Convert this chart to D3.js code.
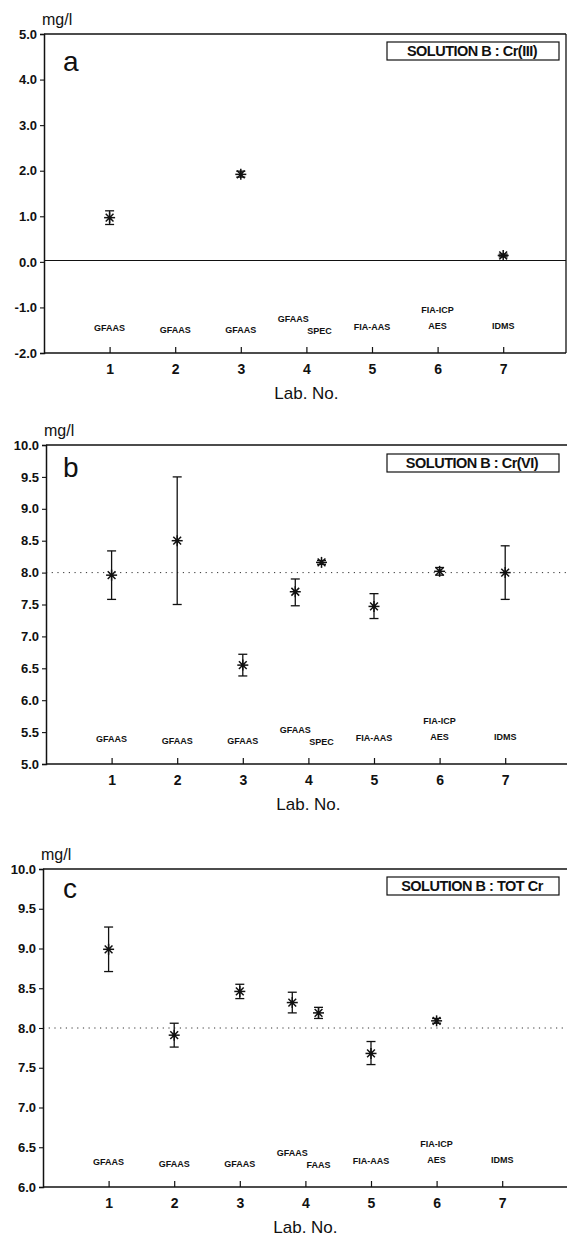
<!DOCTYPE html>
<html>
<head>
<meta charset="utf-8">
<script src="https://cdn.jsdelivr.net/npm/d3@7"></script>
<style>
  html, body { margin: 0; padding: 0; background: #fff; }
  svg { display: block; }
  text { font-family: "Liberation Sans", Arial, Helvetica, sans-serif; fill: #111; }
</style>
</head>
<body>
<svg id="chart" width="567" height="1238"></svg>
<script>
// Laboratory positions on the x axis (lab 4 reported two methods, drawn either side of 4)
const labPositions = [1, 2, 3, 3.8, 4.2, 5, 6, 7];
const labTicks = [1, 2, 3, 4, 5, 6, 7];

// Method names written under each result
const methodsAB = ["GFAAS", "GFAAS", "GFAAS", "GFAAS", "SPEC", "FIA-AAS", "FIA-ICP|AES", "IDMS"];
const methodsC  = ["GFAAS", "GFAAS", "GFAAS", "GFAAS", "FAAS", "FIA-AAS", "FIA-ICP|AES", "IDMS"];

// Solution B, Cr(III) in mg/l: mean and error-bar limits
const crIIIMean = [0.97, null, 1.92, null, null, null, null, 0.14];
const crIIILow  = [0.82, null, 1.86, null, null, null, null, 0.11];
const crIIIHigh = [1.12, null, 1.99, null, null, null, null, 0.17];

// Solution B, Cr(VI) in mg/l
const crVIMean = [7.96, 8.50, 6.55, 7.70, 8.16, 7.47, 8.02, 8.00];
const crVILow  = [7.58, 7.50, 6.38, 7.48, 8.13, 7.28, 7.96, 7.58];
const crVIHigh = [8.34, 9.50, 6.72, 7.90, 8.19, 7.67, 8.08, 8.42];

// Solution B, total Cr in mg/l
const totCrMean = [8.99, 7.91, 8.46, 8.32, 8.19, 7.68, 8.09, null];
const totCrLow  = [8.71, 7.76, 8.37, 8.19, 8.12, 7.54, 8.06, null];
const totCrHigh = [9.27, 8.06, 8.55, 8.45, 8.26, 7.83, 8.12, null];

// Reference levels
const referenceValues = [0.03, 8.0, 8.0];

// Y axis tick values
const yTicksA = [-2, -1, 0, 1, 2, 3, 4, 5];
const yTicksB = [5, 5.5, 6, 6.5, 7, 7.5, 8, 8.5, 9, 9.5, 10];
const yTicksC = [6, 6.5, 7, 7.5, 8, 8.5, 9, 9.5, 10];

const panelLetters = ["a", "b", "c"];
const legendTitles = ["SOLUTION B : Cr(III)", "SOLUTION B : Cr(VI)", "SOLUTION B : TOT Cr"];

// ---- layout ----
const unitPx = 65.6;
const layout = [
  { top: 34,  bottom: 353,  left: 44, right: 566, letterY: 71,  legendY: 42,  refStyle: "solid" },
  { top: 445, bottom: 764,  left: 46, right: 569, letterY: 477, legendY: 454, refStyle: "dotted" },
  { top: 869, bottom: 1187, left: 43, right: 569, letterY: 898, legendY: 877, refStyle: "dotted" }
];
// vertical offsets (px above the x axis) for the method captions, one per result
const methodOffsets = [25, 23, 23.5, 34.5, 22.5, 26.5, [43, 27.5], 27];

const panels = [
  { mean: crIIIMean, low: crIIILow, high: crIIIHigh, ticks: yTicksA, methods: methodsAB },
  { mean: crVIMean,  low: crVILow,  high: crVIHigh,  ticks: yTicksB, methods: methodsAB },
  { mean: totCrMean, low: totCrLow, high: totCrHigh, ticks: yTicksC, methods: methodsC }
];

const svg = d3.select("#chart");
const ink = "#111";
const fontStack = "'Liberation Sans', Arial, sans-serif";

// eight-armed asterisk marker with a solid centre
function asterisk(g, r) {
  for (let k = 0; k < 4; k++) {
    const a = k * Math.PI / 4;
    g.append("line")
      .attr("x1", -r * Math.cos(a)).attr("y1", -r * Math.sin(a))
      .attr("x2", r * Math.cos(a)).attr("y2", r * Math.sin(a))
      .attr("stroke", ink).attr("stroke-width", 1.5);
  }
  g.append("circle").attr("r", 2).attr("fill", ink);
}

panels.forEach((p, i) => {
  const L = layout[i];
  const x = d3.scaleLinear().domain([0, 8]).range([L.left, L.left + 8 * unitPx]);
  const y = d3.scaleLinear().domain(d3.extent(p.ticks)).range([L.bottom, L.top]);
  const g = svg.append("g");

  // frame: top and right edges
  g.append("line").attr("x1", L.left).attr("x2", L.right)
    .attr("y1", L.top).attr("y2", L.top).attr("stroke", ink).attr("stroke-width", 1.3);
  g.append("line").attr("x1", L.right).attr("x2", L.right)
    .attr("y1", L.top).attr("y2", L.bottom).attr("stroke", ink).attr("stroke-width", 1.3);

  // reference level
  const ref = g.append("line")
    .attr("x1", L.left).attr("x2", L.right)
    .attr("y1", y(referenceValues[i])).attr("y2", y(referenceValues[i]))
    .attr("stroke", ink);
  if (L.refStyle === "dotted") {
    ref.attr("stroke-width", 1).attr("stroke-dasharray", "1.2,4.5").attr("stroke", "#333");
  } else {
    ref.attr("stroke-width", 1.1);
  }

  // y axis
  const yAxis = d3.axisLeft(y).tickValues(p.ticks).tickSize(4).tickPadding(3)
    .tickFormat(v => v.toFixed(1));
  const ya = g.append("g").attr("transform", `translate(${L.left},0)`).call(yAxis);
  ya.select(".domain").attr("stroke", ink).attr("stroke-width", 1.5);
  ya.selectAll(".tick line").attr("stroke", ink).attr("stroke-width", 1.1);
  ya.selectAll(".tick text").attr("font-size", 13).attr("font-weight", "bold")
    .attr("fill", ink).attr("font-family", fontStack);

  // x axis: ticks point into the plot
  const xAxis = d3.axisBottom(x).tickValues(labTicks).tickSize(-6).tickPadding(11)
    .tickFormat(d3.format("d"));
  const xa = g.append("g").attr("transform", `translate(0,${L.bottom})`).call(xAxis);
  xa.select(".domain").attr("d", `M${L.left},0H${L.right}`).attr("stroke", ink).attr("stroke-width", 1.5);
  xa.selectAll(".tick line").attr("stroke", ink).attr("stroke-width", 1.2);
  xa.selectAll(".tick text").attr("font-size", 14).attr("font-weight", "bold")
    .attr("fill", ink).attr("font-family", fontStack);

  // axis titles
  g.append("text").attr("x", L.left - 2).attr("y", L.top - 9)
    .attr("font-size", 16).text("mg/l");
  g.append("text").attr("x", x(4)).attr("y", L.bottom + 46)
    .attr("text-anchor", "middle").attr("font-size", 17).text("Lab. No.");

  // panel letter
  g.append("text").attr("x", 63).attr("y", L.letterY)
    .attr("font-size", 28).text(panelLetters[i]);

  // legend box
  g.append("rect").attr("x", 387).attr("y", L.legendY).attr("width", 172).attr("height", 18)
    .attr("fill", "none").attr("stroke", ink).attr("stroke-width", 1.2);
  g.append("text").attr("x", 472).attr("y", L.legendY + 14)
    .attr("text-anchor", "middle").attr("font-size", 14.5).attr("font-weight", "bold")
    .attr("letter-spacing", -0.5).text(legendTitles[i]);

  // method captions
  p.methods.forEach((m, j) => {
    const parts = m.split("|");
    const offs = Array.isArray(methodOffsets[j]) ? methodOffsets[j] : [methodOffsets[j]];
    parts.forEach((t, k) => {
      g.append("text").attr("x", x(labPositions[j])).attr("y", L.bottom - offs[k] + 3.3)
        .attr("text-anchor", "middle").attr("font-size", 9).attr("font-weight", "bold")
        .text(t);
    });
  });

  // results: error bars and markers
  const rows = labPositions.map((pos, j) => ({ pos, m: p.mean[j], lo: p.low[j], hi: p.high[j] }))
    .filter(d => d.m != null);
  const cap = 4.5;
  rows.forEach(d => {
    const cx = x(d.pos);
    g.append("line").attr("x1", cx).attr("x2", cx).attr("y1", y(d.lo)).attr("y2", y(d.hi))
      .attr("stroke", ink).attr("stroke-width", 1.3);
    [d.lo, d.hi].forEach(v => {
      g.append("line").attr("x1", cx - cap).attr("x2", cx + cap).attr("y1", y(v)).attr("y2", y(v))
        .attr("stroke", ink).attr("stroke-width", 1.3);
    });
    asterisk(g.append("g").attr("transform", `translate(${cx},${y(d.m)})`), 5.5);
  });
});
</script>
</body>
</html>
